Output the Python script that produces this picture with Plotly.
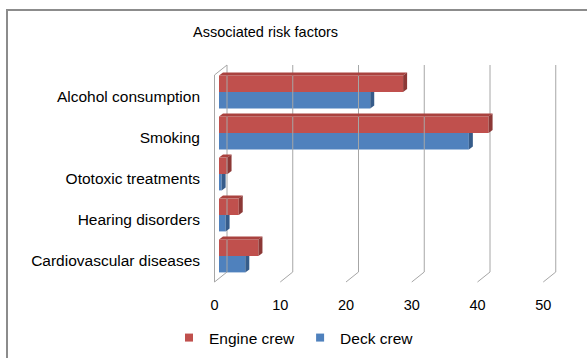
import plotly.graph_objects as go

# Risk factors, listed bottom-to-top as they appear on the chart
categories = ["Cardiovascular diseases", "Hearing disorders", "Ototoxic treatments",
              "Smoking", "Alcohol consumption"]
engine_crew = [6, 3, 1.3, 41, 28]
deck_crew = [4, 1, 0.4, 38, 23]
x_ticks = [0, 10, 20, 30, 40, 50]

ENGINE = "#C0504D"
ENGINE_SIDE = "#8C3836"
ENGINE_TOP = "#A9423F"
DECK = "#4F81BD"
DECK_SIDE = "#365C8A"
GRID = "#A6A6A6"

W, H = 587, 358
L, R, T, B = 201, 2, 55, 68          # plot-area margins (px)
PX_X = 6.575                          # px per value unit
PX_Y = 41.0                           # px per category step
X0_PX, Y0_PX = 219, 256               # pixel position of value 0 / first category
BAR_W = 0.4
DX, DY = 4 / PX_X, 3 / PX_Y           # bar depth (side/top faces)
BACK_OFF = 8 / PX_X                   # back wall offset from bar plane
FRONT_OFF = -4.5 / PX_X               # front edge offset from bar plane
Y_BACK_BOT = -16 / PX_Y
Y_FRONT_BOT = -26 / PX_Y
Y_BACK_TOP = 191 / PX_Y
Y_FRONT_TOP = 181 / PX_Y

x_lo = (L - X0_PX) / PX_X
x_hi = (W - R - X0_PX) / PX_X
y_lo = (Y0_PX - (H - B)) / PX_Y
y_hi = (Y0_PX - T) / PX_Y

pos = list(range(len(categories)))

fig = go.Figure()

# walls: back gridlines, floor edges and the left wall
gx, gy = [], []
for v in x_ticks:
    gx += [v + BACK_OFF, v + BACK_OFF, v + FRONT_OFF, None]
    gy += [Y_BACK_TOP, Y_BACK_BOT, Y_FRONT_BOT, None]
gx += [FRONT_OFF, FRONT_OFF, BACK_OFF, None]
gy += [Y_FRONT_BOT, Y_FRONT_TOP, Y_BACK_TOP, None]
fig.add_trace(go.Scatter(x=gx, y=gy, mode="lines", line=dict(color=GRID, width=1),
                         hoverinfo="skip", showlegend=False))

# front faces of the bars
fig.add_trace(go.Bar(y=pos, x=engine_crew, orientation="h", name="Engine crew",
                     width=BAR_W, offset=0, marker=dict(color=ENGINE, line_width=0),
                     showlegend=False))
fig.add_trace(go.Bar(y=pos, x=deck_crew, orientation="h", name="Deck crew",
                     width=BAR_W, offset=-BAR_W, marker=dict(color=DECK, line_width=0),
                     showlegend=False))

# side and top faces giving the bars depth
for i, v in zip(pos, engine_crew):
    y0, y1 = i, i + BAR_W
    fig.add_trace(go.Scatter(x=[0, DX, v + DX, v, 0], y=[y1, y1 + DY, y1 + DY, y1, y1],
                             fill="toself", fillcolor=ENGINE_TOP, mode="none",
                             hoverinfo="skip", showlegend=False))
    fig.add_trace(go.Scatter(x=[v, v, v + DX, v + DX, v], y=[y0, y1, y1 + DY, y0 + DY, y0],
                             fill="toself", fillcolor=ENGINE_SIDE, mode="none",
                             hoverinfo="skip", showlegend=False))
for i, v in zip(pos, deck_crew):
    y0, y1 = i - BAR_W, i
    fig.add_trace(go.Scatter(x=[v, v, v + DX, v + DX, v], y=[y0, y1, y1, y0 + DY, y0],
                             fill="toself", fillcolor=DECK_SIDE, mode="none",
                             hoverinfo="skip", showlegend=False))

# legend entries with small square swatches
for name, color in [("Engine crew", ENGINE), ("Deck crew", DECK)]:
    fig.add_trace(go.Scatter(x=[None], y=[None], mode="markers", name=name,
                             marker=dict(symbol="square", size=8, color=color)))

# value-axis labels sit on the front edge of the floor
fig.add_trace(go.Scatter(x=x_ticks, y=[None] * len(x_ticks), xaxis="x2", mode="markers",
                         hoverinfo="skip", showlegend=False))

# chart frame
fig.add_shape(type="rect", xref="paper", yref="paper",
              x0=(7 - L) / (W - L - R), x1=1.3,
              y0=-0.6, y1=1 + (T - 10) / (H - T - B),
              line=dict(color="#8C8C8C", width=2), layer="below")

fig.add_annotation(text="Associated risk factors", xref="paper", yref="paper",
                   x=(265 - L) / (W - L - R), y=1 + (T - 32) / (H - T - B),
                   xanchor="center", yanchor="middle", showarrow=False,
                   font=dict(family="Liberation Sans, Arial", size=14.5, color="#000000"))

fig.update_layout(
    width=W, height=H,
    margin=dict(l=L, r=R, t=T, b=B),
    paper_bgcolor="white", plot_bgcolor="rgba(0,0,0,0)",
    barmode="overlay",
    font=dict(family="Liberation Sans, Arial", size=15.5, color="#000000"),
    xaxis=dict(range=[x_lo, x_hi], showgrid=False, zeroline=False, showline=False,
               showticklabels=False, ticks=""),
    xaxis2=dict(range=[x_lo - FRONT_OFF, x_hi - FRONT_OFF], overlaying="x", side="bottom",
                anchor="y", tickvals=x_ticks, showgrid=False, zeroline=False,
                showline=False, ticks="outside", ticklen=2, tickcolor="rgba(0,0,0,0)",
                tickfont=dict(size=14.5, color="#000000")),
    yaxis=dict(range=[y_lo, y_hi], tickvals=[p - 0.11 for p in pos], ticktext=categories,
               showgrid=False, zeroline=False, showline=False, ticks="",
               tickfont=dict(size=15.5, color="#000000")),
    legend=dict(orientation="h", x=(294 - L) / (W - L - R), y=-(338 - (H - B)) / (H - T - B),
                xanchor="center", yanchor="middle", traceorder="normal",
                font=dict(size=15.5, color="#000000"), itemwidth=30),
    showlegend=True,
)

fig.write_html("out.html")
